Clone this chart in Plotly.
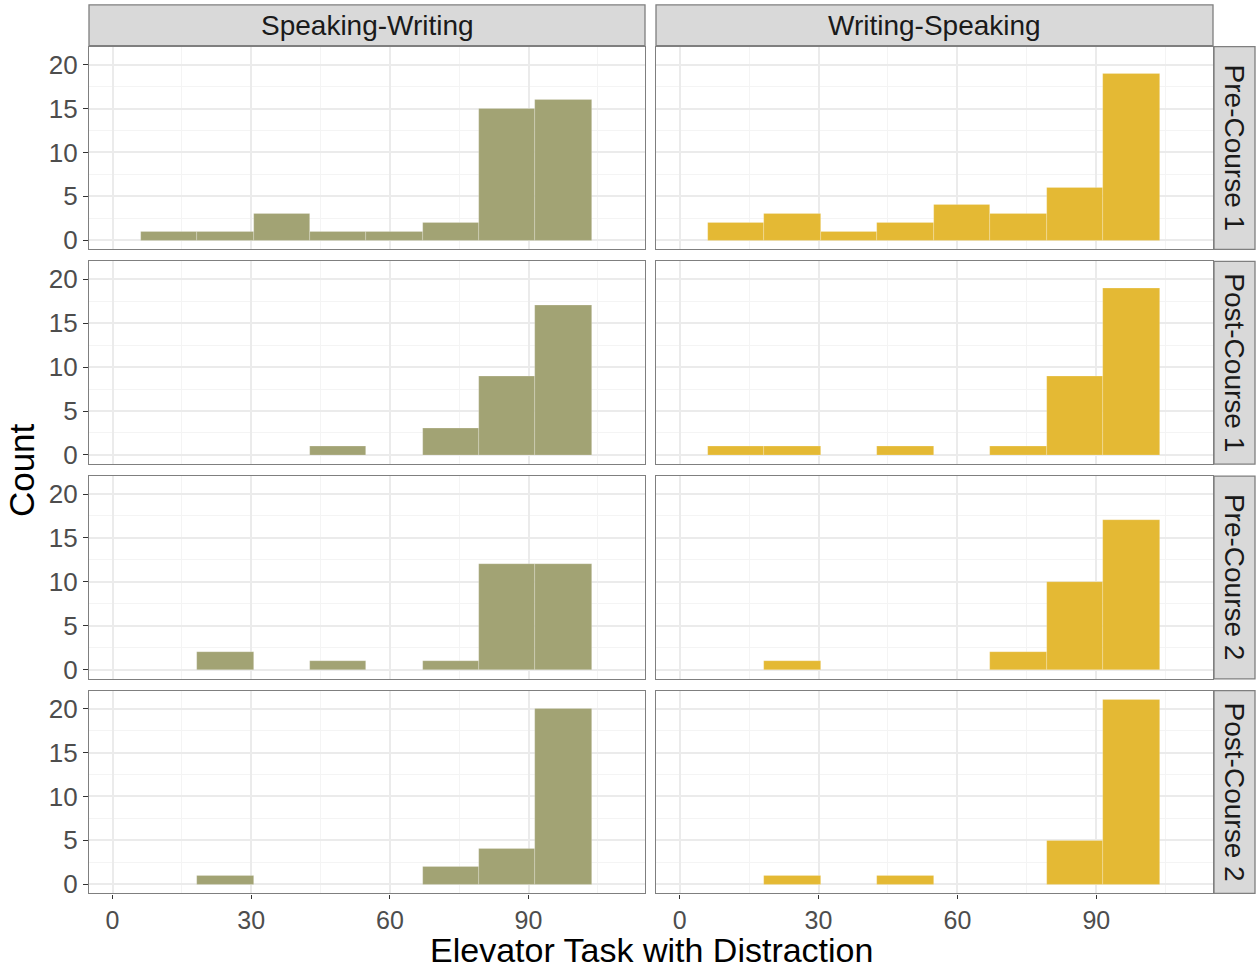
import plotly.graph_objects as go

# Histogram bins (shared by every panel)
bin_start = 6.1
bin_width = 12.2
n_bins = 8

columns = ["Speaking-Writing", "Writing-Speaking"]
rows = ["Pre-Course 1", "Post-Course 1", "Pre-Course 2", "Post-Course 2"]

# Counts per bin, one list per panel
sw_pre1 = [1, 1, 3, 1, 1, 2, 15, 16]
ws_pre1 = [2, 3, 1, 2, 4, 3, 6, 19]
sw_post1 = [0, 0, 0, 1, 0, 3, 9, 17]
ws_post1 = [1, 1, 0, 1, 0, 1, 9, 19]
sw_pre2 = [0, 2, 0, 1, 0, 1, 12, 12]
ws_pre2 = [0, 1, 0, 0, 0, 2, 10, 17]
sw_post2 = [0, 1, 0, 0, 0, 2, 4, 20]
ws_post2 = [0, 1, 0, 1, 0, 0, 5, 21]

counts = {
    ("Speaking-Writing", "Pre-Course 1"): sw_pre1,
    ("Writing-Speaking", "Pre-Course 1"): ws_pre1,
    ("Speaking-Writing", "Post-Course 1"): sw_post1,
    ("Writing-Speaking", "Post-Course 1"): ws_post1,
    ("Speaking-Writing", "Pre-Course 2"): sw_pre2,
    ("Writing-Speaking", "Pre-Course 2"): ws_pre2,
    ("Speaking-Writing", "Post-Course 2"): sw_post2,
    ("Writing-Speaking", "Post-Course 2"): ws_post2,
}

fill_colors = {"Speaking-Writing": "#A2A374", "Writing-Speaking": "#E4B934"}

W, H = 1256, 974
col_px = [(89, 645), (656, 1213)]
row_px = [(47, 251), (263, 467), (479, 683), (695, 899)]
strip_top = (5, 46)
strip_right = (1214, 1255)


def px_x(a, b):
    return [a / W, b / W]


def px_y(a, b):
    return [1 - b / H, 1 - a / H]


centers = [bin_start + bin_width * (i + 0.5) for i in range(n_bins)]

fig = go.Figure()
layout = {}
shapes = []
annotations = []

border = "#7F7F7F"
grid = "#EBEBEB"
minor_grid = "#F4F4F4"
font_family = "Liberation Sans, Arial, sans-serif"
ytick_font = dict(family=font_family, size=26, color="#4D4D4D")
xtick_font = dict(family=font_family, size=25, color="#4D4D4D")
strip_font = dict(family=font_family, size=28, color="#1A1A1A")

idx = 0
for r, rname in enumerate(rows):
    for c, cname in enumerate(columns):
        idx += 1
        xa = "xaxis" if idx == 1 else f"xaxis{idx}"
        ya = "yaxis" if idx == 1 else f"yaxis{idx}"
        xref = "x" if idx == 1 else f"x{idx}"
        yref = "y" if idx == 1 else f"y{idx}"
        vals = counts[(cname, rname)]
        fig.add_trace(go.Bar(
            x=centers,
            y=[v if v > 0 else None for v in vals],
            width=bin_width,
            marker=dict(color=fill_colors[cname],
                        line=dict(color="rgba(255,255,255,0.35)", width=0.6)),
            xaxis=xref, yaxis=yref, showlegend=False,
            hovertemplate="%{y}<extra></extra>",
        ))
        bottom = r == len(rows) - 1
        left = c == 0
        layout[xa] = dict(
            domain=px_x(*col_px[c]), anchor=yref, range=[-5.1, 115.2],
            tickvals=[0, 30, 60, 90], showticklabels=bottom,
            ticks="outside" if bottom else "", ticklen=4, tickwidth=1.3, tickcolor="#333333",
            ticklabelstandoff=0,
            tickfont=xtick_font, showgrid=True, gridcolor=grid, gridwidth=1.6,
            minor=dict(tickvals=[15, 45, 75, 105], showgrid=True, gridcolor=minor_grid, gridwidth=1),
            showline=True, linecolor=border, linewidth=1.3, mirror=True, zeroline=False,
            fixedrange=True,
        )
        layout[ya] = dict(
            domain=px_y(*row_px[r]), anchor=xref, range=[-1.05, 22.05],
            tickvals=[0, 5, 10, 15, 20], showticklabels=left,
            ticks="outside" if left else "", ticklen=5, tickwidth=1.3, tickcolor="#333333",
            tickfont=ytick_font, showgrid=True, gridcolor=grid, gridwidth=1.6,
            minor=dict(tickvals=[2.5, 7.5, 12.5, 17.5], showgrid=True, gridcolor=minor_grid, gridwidth=1),
            showline=True, linecolor=border, linewidth=1.3, mirror=True, zeroline=False,
            fixedrange=True,
        )

# Column strips
for c, cname in enumerate(columns):
    x0, x1 = px_x(*col_px[c])
    y0, y1 = px_y(*strip_top)
    shapes.append(dict(type="rect", xref="paper", yref="paper", x0=x0, x1=x1, y0=y0, y1=y1,
                       fillcolor="#D9D9D9", line=dict(color=border, width=1.3), layer="below"))
    annotations.append(dict(text=cname, xref="paper", yref="paper", x=(x0 + x1) / 2, y=(y0 + y1) / 2,
                            showarrow=False, font=strip_font, xanchor="center", yanchor="middle"))

# Row strips
for r, rname in enumerate(rows):
    x0, x1 = px_x(*strip_right)
    y0, y1 = px_y(*row_px[r])
    shapes.append(dict(type="rect", xref="paper", yref="paper", x0=x0, x1=x1, y0=y0, y1=y1,
                       fillcolor="#D9D9D9", line=dict(color=border, width=1.3), layer="below"))
    annotations.append(dict(text=rname, xref="paper", yref="paper", x=(x0 + x1) / 2, y=(y0 + y1) / 2,
                            showarrow=False, font=strip_font, textangle=90,
                            xanchor="center", yanchor="middle"))

title_font = dict(family=font_family, size=34, color="#000000")
annotations.append(dict(text="Elevator Task with Distraction", xref="paper", yref="paper",
                        x=651 / W, y=1 - 956 / H, showarrow=False, font=title_font,
                        xanchor="center", yanchor="middle"))
annotations.append(dict(text="Count", xref="paper", yref="paper",
                        x=21 / W, y=1 - 473 / H, showarrow=False, font=dict(family=font_family, size=35, color="#000000"),
                        textangle=-90, xanchor="center", yanchor="middle"))

fig.update_layout(
    width=W, height=H, margin=dict(l=0, r=0, t=0, b=0),
    paper_bgcolor="white", plot_bgcolor="white",
    bargap=0, shapes=shapes, annotations=annotations,
    **layout,
)

fig.write_html("out.html")
